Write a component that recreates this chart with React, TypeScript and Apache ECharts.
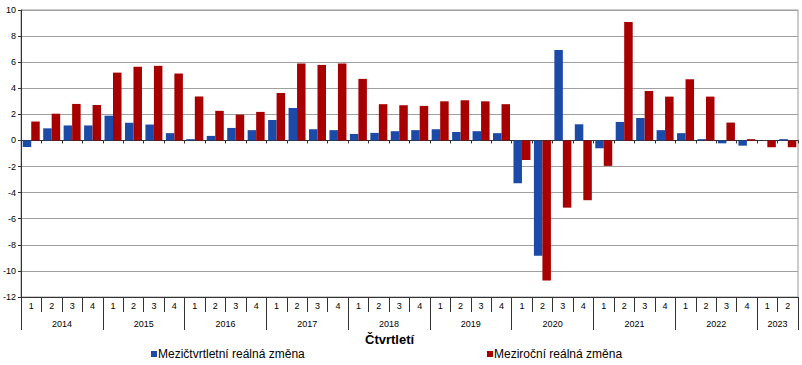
import React, { useEffect, useRef } from "react";
import * as echarts from "echarts";

const quarters = [
  "1","2","3","4","1","2","3","4","1","2","3","4","1","2","3","4","1","2","3","4",
  "1","2","3","4","1","2","3","4","1","2","3","4","1","2","3","4","1","2",
];
const years = ["2014","2015","2016","2017","2018","2019","2020","2021","2022","2023"];
const qoq = [
  -0.5, 0.93, 1.15, 1.15, 1.9, 1.35, 1.22, 0.56, 0.1, 0.35, 0.96, 0.79,
  1.57, 2.49, 0.86, 0.79, 0.5, 0.58, 0.71, 0.79, 0.86, 0.65, 0.71, 0.56,
  -3.28, -8.83, 6.94, 1.24, -0.6, 1.42, 1.72, 0.79, 0.56, 0.1, -0.22, -0.4,
  0.0, 0.1,
];
const yoy = [
  1.45, 2.05, 2.8, 2.72, 5.2, 5.65, 5.72, 5.13, 3.37, 2.27, 1.98, 2.19,
  3.64, 5.9, 5.79, 5.9, 4.72, 2.78, 2.7, 2.65, 3.0, 3.08, 3.0, 2.78,
  -1.5, -10.74, -5.15, -4.58, -1.95, 9.08, 3.79, 3.36, 4.69, 3.36, 1.37, 0.1,
  -0.52, -0.52,
];
const seriesNames = ["Mezičtvrtletní reálná změna", "Meziroční reálná změna"];
const axisTitle = "Čtvrtletí";

// 39 boundary points for the year axis (boundaryGap false)
const yearPoints: string[] = [];
for (let i = 0; i <= 38; i++) {
  if (i < 36 && i % 4 === 2) yearPoints.push(years[(i - 2) / 4]);
  else if (i === 37) yearPoints.push(years[9]);
  else yearPoints.push("");
}

const FONT = "'Liberation Sans', Arial, sans-serif";

export default function App() {
  const ref = useRef<HTMLDivElement>(null);
  useEffect(() => {
    if (!ref.current) return;
    const chart = echarts.init(ref.current, undefined, { renderer: "svg" });
    const legendCommon = {
      top: 343,
      icon: "rect",
      itemWidth: 6,
      itemHeight: 6,
      itemGap: 2,
      textStyle: { fontSize: 12, color: "#000", fontFamily: FONT, padding: [0, 0, 0, -4] },
    };
    chart.setOption({
      animation: false,
      textStyle: { fontFamily: FONT },
      grid: {
        left: 20,
        right: 4,
        top: 10,
        bottom: 68,
        show: true,
        borderColor: "#999",
        borderWidth: 1,
      },
      legend: [
        { ...legendCommon, data: [seriesNames[0]], left: 146 },
        { ...legendCommon, data: [seriesNames[1]], left: 482 },
      ],
      graphic: [
        {
          type: "text",
          left: 365,
          top: 333,
          style: {
            text: axisTitle,
            font: `bold 13px ${FONT}`,
            fill: "#000",
          },
        },
      ],
      xAxis: [
        {
          type: "category",
          data: quarters,
          axisLine: { onZero: true, lineStyle: { color: "#333", width: 1 } },
          axisTick: { show: true, length: 3, interval: 0, lineStyle: { color: "#333" } },
          axisLabel: { show: false },
          splitLine: { show: false },
        },
        {
          type: "category",
          data: quarters,
          position: "bottom",
          axisLine: { onZero: false, show: true, lineStyle: { color: "#333" } },
          axisTick: { show: true, length: 15, interval: 0, lineStyle: { color: "#333" } },
          axisLabel: { show: true, interval: 0, fontSize: 9, color: "#000", margin: 4 },
          splitLine: { show: false },
        },
        {
          type: "category",
          data: yearPoints,
          boundaryGap: false,
          position: "bottom",
          axisLine: { onZero: false, show: false },
          axisTick: {
            show: true,
            length: 33,
            interval: (i: number) => i % 4 === 0 || i === 38,
            lineStyle: { color: "#333" },
          },
          axisLabel: {
            show: true,
            interval: (i: number) => (i < 36 && i % 4 === 2) || i === 37,
            fontSize: 9,
            color: "#000",
            margin: 22,
          },
          splitLine: { show: false },
        },
      ],
      yAxis: {
        type: "value",
        min: -12,
        max: 10,
        interval: 2,
        axisLine: { show: true, lineStyle: { color: "#333" } },
        axisTick: { show: true, length: 3, lineStyle: { color: "#333" } },
        axisLabel: { fontSize: 9, color: "#000", margin: 5 },
        splitLine: { show: true, lineStyle: { color: "#a0a0a0", width: 1 } },
      },
      series: [
        {
          name: seriesNames[0],
          type: "bar",
          data: qoq,
          xAxisIndex: 0,
          itemStyle: { color: "#1c4aa8" },
          barWidth: 8.5,
          barGap: "0%",
        },
        {
          name: seriesNames[1],
          type: "bar",
          data: yoy,
          xAxisIndex: 0,
          itemStyle: { color: "#a80000" },
          barWidth: 8.5,
          barGap: "0%",
        },
      ],
    });
    return () => chart.dispose();
  }, []);
  return <div ref={ref} style={{ width: 802, height: 365, position: "absolute", left: 0, top: 0 }} />;
}
